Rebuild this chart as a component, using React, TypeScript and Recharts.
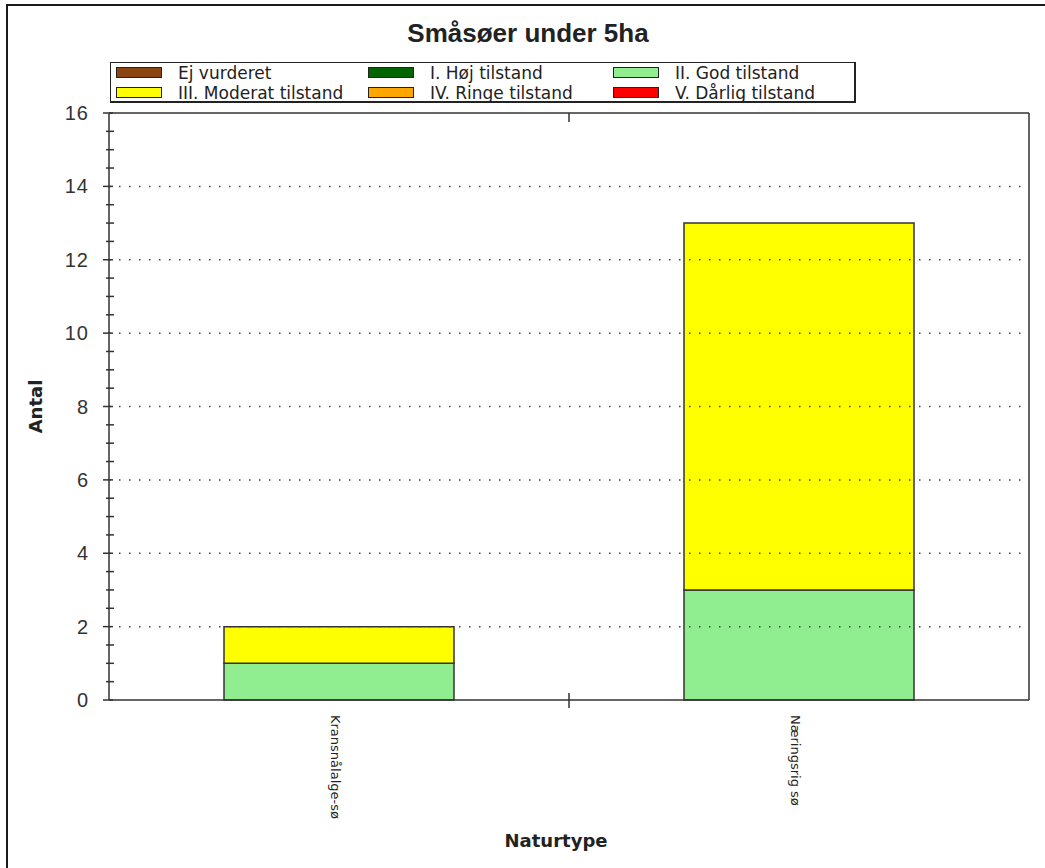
import React from 'react';
import { BarChart, Bar, XAxis, YAxis, ReferenceLine } from 'recharts';

const categories = ['Kransnålalge-sø', 'Næringsrig sø'];
const ejVurderet = [0, 0];
const hojTilstand = [0, 0];
const godTilstand = [1, 3];
const moderatTilstand = [1, 10];
const ringeTilstand = [0, 0];
const darligTilstand = [0, 0];

const seriesKeys = ['ej', 'hoj', 'god', 'moderat', 'ringe', 'darlig'];
const seriesNames = [
  'Ej vurderet',
  'I. Høj tilstand',
  'II. God tilstand',
  'III. Moderat tilstand',
  'IV. Ringe tilstand',
  'V. Dårlig tilstand',
];
const seriesColors = ['#8B4513', '#006400', '#90EE90', '#FFFF00', '#FFA500', '#FF0000'];
const seriesValues = [ejVurderet, hojTilstand, godTilstand, moderatTilstand, ringeTilstand, darligTilstand];

const yTicks = [0, 0.5, 1, 1.5, 2, 2.5, 3, 3.5, 4, 4.5, 5, 5.5, 6, 6.5, 7, 7.5, 8, 8.5, 9, 9.5, 10, 10.5, 11, 11.5, 12, 12.5, 13, 13.5, 14, 14.5, 15, 15.5, 16];
const yLabels = [0, 2, 4, 6, 8, 10, 12, 14, 16];
const gridValues = [2, 4, 6, 8, 10, 12, 14];

const data = categories.map((name, i) => {
  const row: Record<string, string | number> = { name };
  seriesKeys.forEach((k, s) => {
    row[k] = seriesValues[s][i];
  });
  return row;
});

// layout
const W = 1045;
const H = 868;
const PLOT_LEFT = 109;
const PLOT_RIGHT = 1029;
const PLOT_TOP = 113;
const PLOT_BOTTOM = 700;
const STEP = (PLOT_RIGHT - PLOT_LEFT) / categories.length;
const AXIS = '#333';
const NARROW = "'Liberation Sans Narrow', 'Arial Narrow', 'Liberation Sans', Arial, sans-serif";

const LeftTick = (props: any) => {
  const { y, payload } = props;
  const major = yLabels.includes(payload.value);
  return (
    <g>
      <line x1={major ? PLOT_LEFT - 6 : PLOT_LEFT - 3} x2={major ? PLOT_LEFT + 4 : PLOT_LEFT + 5} y1={y} y2={y} stroke={AXIS} strokeWidth={1.5} />
      {major && (
        <text
          x={PLOT_LEFT - 20}
          y={y}
          textAnchor="end"
          dominantBaseline="central"
          fontSize={20}
          letterSpacing={1}
          fill="#333"
          fontFamily="'Liberation Sans', Arial, sans-serif"
        >
          {payload.value}
        </text>
      )}
    </g>
  );
};

const RightTick = (props: any) => {
  const { y, payload } = props;
  if (payload.value === 0 || payload.value === 16) return <g />;
  const major = yLabels.includes(payload.value);
  return <line x1={PLOT_RIGHT - (major ? 9 : 5)} x2={PLOT_RIGHT} y1={y} y2={y} stroke={AXIS} strokeWidth={1.5} />;
};

const BottomTick = (props: any) => {
  const { x, index, payload } = props;
  return (
    <g>
      {index < categories.length - 1 && (
        <line x1={x + STEP / 2} x2={x + STEP / 2} y1={PLOT_BOTTOM - 7} y2={PLOT_BOTTOM + 8} stroke={AXIS} strokeWidth={1.5} />
      )}
      <text
        x={x - 4}
        y={715}
        transform={`rotate(90, ${x - 4}, 715)`}
        textAnchor="start"
        dominantBaseline="central"
        fontSize={13}
        fill="#222"
        fontFamily="'DejaVu Sans', sans-serif"
      >
        {payload.value}
      </text>
    </g>
  );
};

const TopTick = (props: any) => {
  const { x, index } = props;
  if (index >= categories.length - 1) return <g />;
  return <line x1={x + STEP / 2} x2={x + STEP / 2} y1={PLOT_TOP} y2={PLOT_TOP + 9} stroke={AXIS} strokeWidth={1.5} />;
};

const legendCols = [5, 257, 502];

const App: React.FC = () => {
  return (
    <div style={{ position: 'absolute', left: 0, top: 0, width: W, height: H, overflow: 'hidden', background: '#fff' }}>
      <div style={{ position: 'absolute', left: 6, top: 4, width: 1100, height: 900, border: '2px solid #1a1a1a' }} />
      <div
        style={{
          position: 'absolute',
          left: 0,
          top: 18,
          width: 1056,
          textAlign: 'center',
          fontFamily: NARROW,
          fontWeight: 'bold',
          fontSize: 26,
          color: '#222',
          lineHeight: '30px',
        }}
      >
        Småsøer under 5ha
      </div>
      <div
        style={{
          position: 'absolute',
          left: 110,
          top: 62,
          width: 743,
          height: 38,
          borderTop: '1px solid #222',
          borderLeft: '1px solid #222',
          borderRight: '2px solid #222',
          borderBottom: '2px solid #222',
          background: '#fff',
          zIndex: 2,
        }}
      >
        {seriesNames.map((n, i) => {
          const col = i % 3;
          const row = Math.floor(i / 3);
          return (
            <div key={n} style={{ position: 'absolute', left: legendCols[col], top: 0 + row * 20, height: 19, display: 'flex', alignItems: 'center' }}>
              <div style={{ width: 44, height: 9, background: seriesColors[i], border: '1px solid #222' }} />
              <span
                style={{
                  marginLeft: 16,
                  fontFamily: "'DejaVu Sans', sans-serif",
                  fontSize: 17,
                  color: '#222',
                  whiteSpace: 'nowrap',
                }}
              >
                {n}
              </span>
            </div>
          );
        })}
      </div>
      <div style={{ position: 'absolute', left: 0, top: 0 }}>
        <BarChart
          width={W}
          height={H}
          data={data}
          margin={{ top: PLOT_TOP - 1, right: W - PLOT_RIGHT - 1, left: PLOT_LEFT - 60, bottom: H - PLOT_BOTTOM - 120 }}
          barCategoryGap="25%"
        >
          <XAxis
            dataKey="name"
            height={120}
            tickLine={false}
            axisLine={{ stroke: AXIS, strokeWidth: 1.5 }}
            tick={BottomTick}
            interval={0}
            label={{ value: 'Naturtype', position: 'bottom', offset: 14, dx: -13, fontSize: 18, fontWeight: 'bold', fill: '#222', fontFamily: "'DejaVu Sans', sans-serif" }}
          />
          <XAxis
            xAxisId="top"
            dataKey="name"
            orientation="top"
            height={1}
            tickLine={false}
            axisLine={{ stroke: AXIS, strokeWidth: 1.5 }}
            tick={TopTick}
            interval={0}
          />
          <YAxis
            width={60}
            domain={[0, 16]}
            ticks={yTicks}
            interval={0}
            tickLine={false}
            axisLine={{ stroke: AXIS, strokeWidth: 1.5 }}
            tick={LeftTick}
            allowDecimals
            label={{
              content: () => (
                <text
                  x={35}
                  y={(PLOT_TOP + PLOT_BOTTOM) / 2}
                  transform={`rotate(-90, 35, ${(PLOT_TOP + PLOT_BOTTOM) / 2})`}
                  textAnchor="middle"
                  dominantBaseline="central"
                  fontSize={18}
                  fontWeight="bold"
                  fill="#222"
                  fontFamily="'DejaVu Sans', sans-serif"
                >
                  Antal
                </text>
              ),
            }}
          />
          <YAxis
            yAxisId="right"
            orientation="right"
            width={1}
            domain={[0, 16]}
            ticks={yTicks}
            interval={0}
            tickLine={false}
            axisLine={{ stroke: AXIS, strokeWidth: 1.5 }}
            tick={RightTick}
          />
          {gridValues.map((v) => (
            <ReferenceLine key={v} y={v} stroke="#444" strokeWidth={1.5} strokeDasharray="1.5 8.5" />
          ))}
          {seriesKeys.map((k, i) => (
            <Bar
              key={k}
              dataKey={k}
              name={seriesNames[i]}
              stackId="a"
              fill={seriesColors[i]}
              stroke="#333"
              strokeWidth={1.5}
              isAnimationActive={false}
            />
          ))}
        </BarChart>
      </div>
    </div>
  );
};

export default App;
